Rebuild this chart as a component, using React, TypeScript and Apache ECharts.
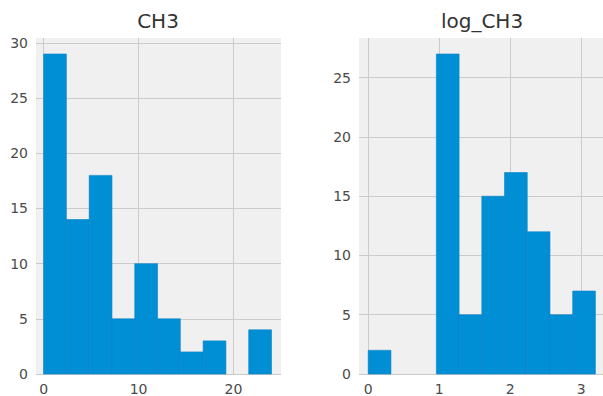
import React, { useEffect, useRef } from "react";
import * as echarts from "echarts";

const ch3Edges = [0, 2.4, 4.8, 7.2, 9.6, 12, 14.4, 16.8, 19.2, 21.6, 24];
const ch3Counts = [29, 14, 18, 5, 10, 5, 2, 3, 0, 4];
const logEdges = [0, 0.32, 0.64, 0.96, 1.28, 1.6, 1.92, 2.24, 2.56, 2.88, 3.2];
const logCounts = [2, 0, 0, 27, 5, 15, 17, 12, 5, 7];

const ch3XTicks = [0, 10, 20];
const ch3YTicks = [0, 5, 10, 15, 20, 25, 30];
const logXTicks = [0, 1, 2, 3];
const logYTicks = [0, 5, 10, 15, 20, 25];

const titles = ["CH3", "log_CH3"];

const BAR = "#008fd5";
const GRIDC = "#cbcbcb";
const BG = "#f0f0f0";
const TXT = "#4a4a4a";
const FONT = "DejaVu Sans";

function histData(edges: number[], counts: number[]) {
  return counts.map((c, i) => [edges[i], edges[i + 1], c]);
}

function renderBar(params: any, api: any) {
  const x0 = api.value(0);
  const x1 = api.value(1);
  const c = api.value(2);
  if (!c) return null;
  const p0 = api.coord([x0, c]);
  const p1 = api.coord([x1, 0]);
  return {
    type: "rect",
    shape: { x: p0[0], y: p0[1], width: p1[0] - p0[0], height: p1[1] - p0[1] },
    style: { fill: BAR, stroke: "#0a82c4", lineWidth: 0.6 },
  };
}

function xAxis(gridIndex: number, min: number, max: number, ticks: number[]) {
  return {
    type: "value",
    gridIndex,
    min,
    max,
    axisLine: { show: false },
    axisTick: { show: false, customValues: ticks },
    axisLabel: { customValues: ticks, color: TXT, fontSize: 14, fontFamily: FONT, margin: 8 },
    splitLine: { show: true, lineStyle: { color: GRIDC, width: 1 } },
  };
}

function yAxis(gridIndex: number, min: number, max: number, ticks: number[]) {
  return {
    type: "value",
    gridIndex,
    min,
    max,
    axisLine: { show: false },
    axisTick: { show: false, customValues: ticks },
    axisLabel: { customValues: ticks, color: TXT, fontSize: 14, fontFamily: FONT, margin: 8 },
    splitLine: { show: true, lineStyle: { color: GRIDC, width: 1 } },
  };
}

export default function App() {
  const ref = useRef<HTMLDivElement>(null);
  useEffect(() => {
    if (!ref.current) return;
    const chart = echarts.init(ref.current, null, { renderer: "svg" });
    chart.setOption({
      animation: false,
      backgroundColor: "#ffffff",
      grid: [
        { left: 36, top: 38, width: 245, height: 336, show: true, backgroundColor: BG, borderWidth: 0 },
        { left: 359, top: 38, width: 244, height: 336, show: true, backgroundColor: BG, borderWidth: 0 },
      ],
      xAxis: [xAxis(0, -0.8, 25, ch3XTicks), xAxis(1, -0.13, 3.307, logXTicks)],
      yAxis: [yAxis(0, 0, 30.45, ch3YTicks), yAxis(1, 0, 28.35, logYTicks)],
      series: [
        {
          type: "custom",
          xAxisIndex: 0,
          yAxisIndex: 0,
          renderItem: renderBar,
          encode: { x: [0, 1], y: 2 },
          data: histData(ch3Edges, ch3Counts),
        },
        {
          type: "custom",
          xAxisIndex: 1,
          yAxisIndex: 1,
          renderItem: renderBar,
          encode: { x: [0, 1], y: 2 },
          data: histData(logEdges, logCounts),
        },
      ],
      graphic: [
        {
          type: "text",
          x: 158,
          y: 21,
          style: { text: titles[0], fontSize: 20, fill: "#333333", align: "center", verticalAlign: "middle", fontFamily: FONT },
        },
        {
          type: "text",
          x: 482,
          y: 21,
          style: { text: titles[1], fontSize: 20, fill: "#333333", align: "center", verticalAlign: "middle", fontFamily: FONT },
        },
      ],
    });
    return () => chart.dispose();
  }, []);
  return (
    <div
      ref={ref}
      style={{ position: "fixed", left: 0, top: 0, width: 603, height: 396, background: "#fff" }}
    />
  );
}
